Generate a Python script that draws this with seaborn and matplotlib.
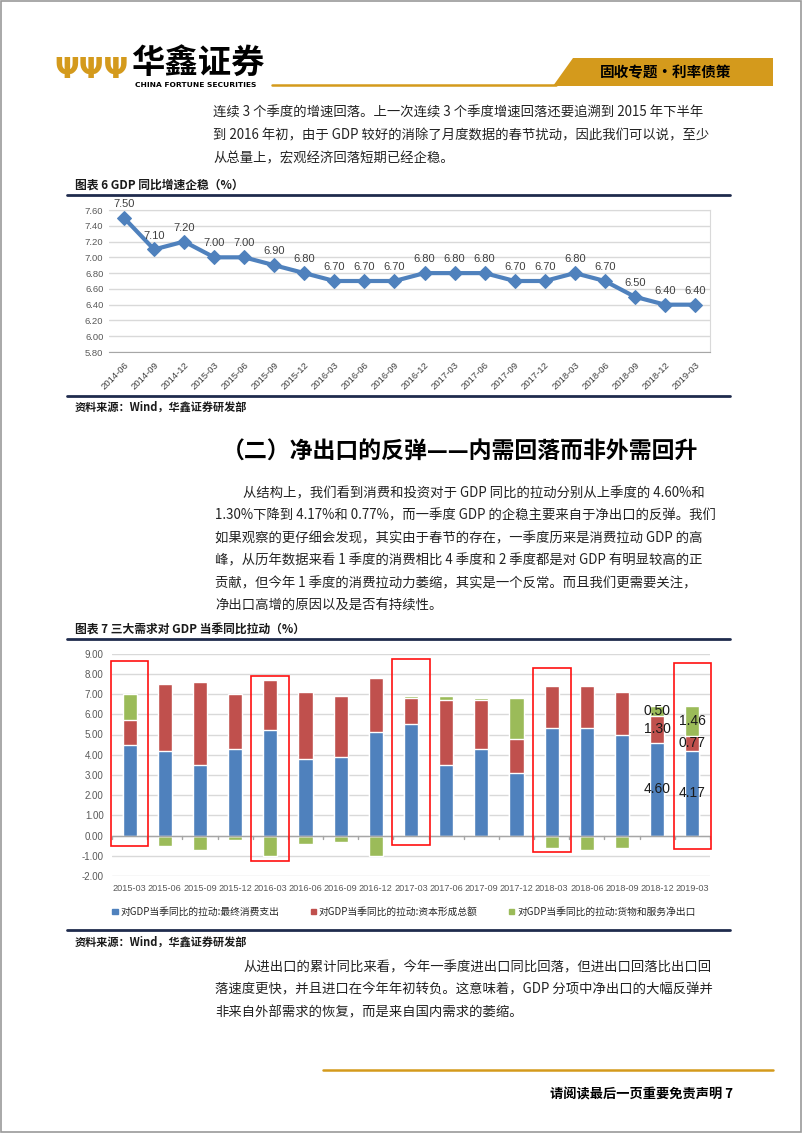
import matplotlib
matplotlib.use('Agg')
import pandas as pd
import matplotlib.pyplot as plt
from matplotlib.patches import Rectangle, Polygon
import seaborn as sns

# chart 6 data
gdp_quarters = ['2014-06', '2014-09', '2014-12', '2015-03', '2015-06', '2015-09', '2015-12',
                '2016-03', '2016-06', '2016-09', '2016-12', '2017-03', '2017-06', '2017-09',
                '2017-12', '2018-03', '2018-06', '2018-09', '2018-12', '2019-03']
gdp_growth = [7.5, 7.1, 7.2, 7.0, 7.0, 6.9, 6.8, 6.7, 6.7, 6.7, 6.8, 6.8, 6.8, 6.7,
              6.7, 6.8, 6.7, 6.5, 6.4, 6.4]

# chart 7 data
pull_quarters = ['2015-03', '2015-06', '2015-09', '2015-12', '2016-03', '2016-06', '2016-09',
                 '2016-12', '2017-03', '2017-06', '2017-09', '2017-12', '2018-03', '2018-06',
                 '2018-09', '2018-12', '2019-03']
consumption = [4.5, 4.2, 3.5, 4.3, 5.2, 3.8, 3.9, 5.1, 5.5, 3.5, 4.3, 3.1, 5.3, 5.3, 5.0, 4.6, 4.17]
capital = [1.2, 3.3, 4.1, 2.7, 2.5, 3.3, 3.0, 2.7, 1.3, 3.2, 2.4, 1.7, 2.1, 2.1, 2.1, 1.3, 0.77]
net_exports = [1.3, -0.5, -0.7, -0.2, -1.0, -0.4, -0.3, -1.0, 0.1, 0.2, 0.1, 2.0, -0.6, -0.7,
               -0.6, 0.5, 1.46]
labelled_quarters = ['2018-12', '2019-03']
series_names = ['对GDP当季同比的拉动:最终消费支出', '对GDP当季同比的拉动:资本形成总额',
                '对GDP当季同比的拉动:货物和服务净出口']

# red highlight boxes (quarter, top, bottom)
highlight_quarters = ['2015-03', '2016-03', '2017-03', '2018-03', '2019-03']
highlight_tops = [8.62, 7.91, 8.72, 8.27, 8.52]
highlight_bottoms = [-0.54, -1.25, -0.45, -0.84, -0.68]

sns.set_style('white')
plt.rcParams['font.family'] = ['Noto Sans CJK SC', 'DejaVu Sans']

W, H = 802, 1133
fig = plt.figure(figsize=(W / 100, H / 100), dpi=100)

GOLD = '#D49A1C'
NAVY = '#1F2B4D'
BLUE = '#4F81BD'
RED = '#C0504D'
GREEN = '#9BBB59'
GRID = '#D9D9D9'
TICK = '#595959'


def fx(x):
    return x / W


def fy(y):
    return 1 - y / H


def rect(left, top, right, bottom):
    return [fx(left), fy(bottom), (right - left) / W, (bottom - top) / H]


def hline(x0, x1, y, color, lw):
    fig.add_artist(plt.Line2D([fx(x0), fx(x1)], [fy(y), fy(y)], color=color, lw=lw))


def text(x, y, s, size, **kw):
    fig.text(fx(x), fy(y), s, fontsize=size, va='center', **kw)


# page frame
fig.add_artist(Rectangle((0.001, 0.001), 0.998, 0.998, fill=False, ec='#9A9A9A', lw=1.2))

# header logo
text(91, 70, 'ΨΨΨ', 21, color=GOLD, ha='center', weight='bold', family='DejaVu Sans')
text(131, 63, '华鑫证券', 24, color='black', weight='bold')
text(135, 85, 'CHINA FORTUNE SECURITIES', 5.4, color='black', weight='bold', family='DejaVu Sans')
hline(272, 556, 84.5, GOLD, 1.8)
fig.add_artist(Polygon([(fx(553), fy(86)), (fx(573), fy(58)), (fx(773), fy(58)), (fx(773), fy(86))],
                       closed=True, fc=GOLD, ec='none'))
text(666, 72, '固收专题·利率债策', 10.5, color='black', weight='bold', ha='center')

body = '#222222'
BODY_SIZE = 9.6
para1 = ['连续 3 个季度的增速回落。上一次连续 3 个季度增速回落还要追溯到 2015 年下半年',
         '到 2016 年初，由于 GDP 较好的消除了月度数据的春节扰动，因此我们可以说，至少',
         '从总量上，宏观经济回落短期已经企稳。']
for i, line in enumerate(para1):
    text(213, 113 + i * 22.5, line, BODY_SIZE, color=body)

# chart 6
text(75, 185, '图表 6 GDP 同比增速企稳（%）', 8.5, color='#1a1a1a', weight='bold')
hline(67, 730, 195, NAVY, 2.0)
ax1 = fig.add_axes(rect(109, 210, 710, 352))
df1 = pd.DataFrame({'pos': range(len(gdp_quarters)), 'growth': gdp_growth})
sns.lineplot(data=df1, x='pos', y='growth', ax=ax1, color=BLUE, lw=3, marker='D',
             markersize=7, markeredgecolor=BLUE)
for i, v in enumerate(gdp_growth):
    ax1.annotate(f'{v:.2f}', (i, v), xytext=(0, 10), textcoords='offset points',
                 ha='center', va='center', fontsize=8, color='#404040', family='Liberation Sans')
ax1.set_xlim(-0.5, len(gdp_quarters) - 0.5)
ax1.set_ylim(5.8, 7.6)
ax1.set_yticks([5.8 + 0.2 * k for k in range(10)])
ax1.set_yticklabels([f'{5.8 + 0.2 * k:.2f}' for k in range(10)], fontsize=6.8, color=TICK,
                    family='Liberation Sans')
ax1.set_xticks(range(len(gdp_quarters)))
ax1.set_xticklabels(gdp_quarters, rotation=45, ha='right', rotation_mode='anchor', fontsize=6.8,
                    color='#404040', family='Liberation Sans')
ax1.set_xticks([k - 0.5 for k in range(len(gdp_quarters) + 1)], minor=True)
ax1.tick_params(axis='x', which='major', length=0, pad=6)
ax1.tick_params(axis='x', which='minor', length=4, color='#A6A6A6', direction='out')
ax1.tick_params(axis='y', length=0, pad=4)
ax1.grid(axis='y', color=GRID, lw=1)
ax1.set_xlabel('')
ax1.set_ylabel('')
for s in ['top', 'right', 'left']:
    ax1.spines[s].set_color(GRID)
ax1.spines['left'].set_visible(False)
ax1.spines['bottom'].set_color('#A6A6A6')
hline(67, 730, 396, NAVY, 2.0)
text(75, 407, '资料来源：Wind，华鑫证券研发部', 8, color='#1a1a1a', weight='bold')

text(460, 452, '（二）净出口的反弹——内需回落而非外需回升', 16.5, color='black', ha='center',
     weight='bold')

para2 = ['从结构上，我们看到消费和投资对于 GDP 同比的拉动分别从上季度的 4.60%和',
         '1.30%下降到 4.17%和 0.77%，而一季度 GDP 的企稳主要来自于净出口的反弹。我们',
         '如果观察的更仔细会发现，其实由于春节的存在，一季度历来是消费拉动 GDP 的高',
         '峰，从历年数据来看 1 季度的消费相比 4 季度和 2 季度都是对 GDP 有明显较高的正',
         '贡献，但今年 1 季度的消费拉动力萎缩，其实是一个反常。而且我们更需要关注，',
         '净出口高增的原因以及是否有持续性。']
for i, line in enumerate(para2):
    text(243 if i == 0 else 215, 493 + i * 22.6, line, BODY_SIZE, color=body)

# chart 7
text(75, 630, '图表 7 三大需求对 GDP 当季同比拉动（%）', 8.5, color='#1a1a1a', weight='bold')
hline(67, 730, 639, NAVY, 2.0)
ax2 = fig.add_axes(rect(112, 653.7, 710, 875.9))
df2 = pd.DataFrame({'quarter': pull_quarters, 'consumption': consumption, 'capital': capital,
                    'net': net_exports})
df2['cr'] = df2['consumption'] + df2['capital']
df2['green_h'] = [c + n if n >= 0 else n for c, n in zip(df2['cr'], df2['net'])]
bw = 0.4
sns.barplot(data=df2, x='quarter', y='green_h', color=GREEN, width=bw, saturation=1, ax=ax2,
            errorbar=None, zorder=2)
sns.barplot(data=df2, x='quarter', y='cr', color=RED, width=bw, saturation=1, ax=ax2,
            errorbar=None, zorder=3)
sns.barplot(data=df2, x='quarter', y='consumption', color=BLUE, width=bw, saturation=1, ax=ax2,
            errorbar=None, zorder=4)
for q in labelled_quarters:
    i = pull_quarters.index(q)
    c, k, n = consumption[i], capital[i], net_exports[i]
    for val, mid in [(c, c / 2), (k, c + k / 2), (n, c + k + n / 2)]:
        ax2.text(i, mid, f'{val:.2f}', ha='center', va='center', fontsize=10, color='#1a1a1a',
                 family='Liberation Sans', zorder=6)
for q, t, b in zip(highlight_quarters, highlight_tops, highlight_bottoms):
    i = pull_quarters.index(q)
    ax2.add_patch(Rectangle((i - 0.535, b), 1.07, t - b, fill=False, ec='#FF1010', lw=1.2,
                            zorder=7, clip_on=False))
ax2.set_xlim(-0.5, len(pull_quarters) - 0.5)
ax2.set_ylim(-2, 9)
ax2.set_yticks(range(-2, 10))
ax2.set_yticklabels([f'{v:.2f}' for v in range(-2, 10)], fontsize=7, color=TICK,
                    family='Liberation Sans')
ax2.set_xticks(range(len(pull_quarters)))
ax2.set_xticklabels(pull_quarters, fontsize=6.6, color=TICK, family='Liberation Sans')
ax2.tick_params(axis='x', length=0, pad=6)
ax2.tick_params(axis='y', length=0, pad=6)
ax2.grid(axis='y', color=GRID, lw=1, zorder=0)
ax2.set_axisbelow(True)
ax2.axhline(0, color='#A6A6A6', lw=1, zorder=5)
for k in range(len(pull_quarters) + 1):
    ax2.plot([k - 0.5, k - 0.5], [0, -0.18], color='#A6A6A6', lw=1, zorder=5, clip_on=False)
ax2.set_xlabel('')
ax2.set_ylabel('')
sns.despine(ax=ax2, left=True, bottom=True)
handles = [Rectangle((0, 0), 1, 1, color=c) for c in [BLUE, RED, GREEN]]
fig.legend(handles, series_names, loc='center', bbox_to_anchor=(fx(404), fy(912)), ncol=3,
           frameon=False, fontsize=7, handlelength=0.55, handleheight=0.55, handletextpad=0.3,
           columnspacing=3.2)
hline(67, 730, 930, NAVY, 2.0)
text(75, 942, '资料来源：Wind，华鑫证券研发部', 8, color='#1a1a1a', weight='bold')

para3 = ['从进出口的累计同比来看，今年一季度进出口同比回落，但进出口回落比出口回',
         '落速度更快，并且进口在今年年初转负。这意味着，GDP 分项中净出口的大幅反弹并',
         '非来自外部需求的恢复，而是来自国内需求的萎缩。']
for i, line in enumerate(para3):
    text(243 if i == 0 else 215, 967 + i * 22.6, line, BODY_SIZE, color=body)

# footer
hline(323, 773, 1070, GOLD, 1.8)
text(733, 1095, '请阅读最后一页重要免责声明 7', 9.5, color='black', weight='bold', ha='right')

fig.savefig('out.png', dpi=100)
